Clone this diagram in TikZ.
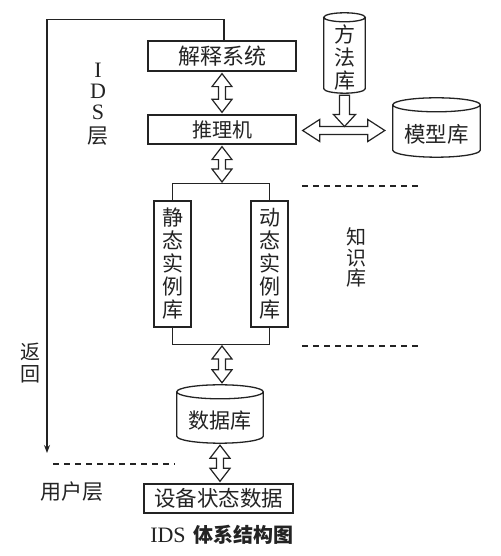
\documentclass[tikz,border=0pt]{standalone}
\usepackage{fontspec}
\setmainfont{Liberation Serif}
\newfontfamily\cjk{Noto Sans CJK SC}
\usetikzlibrary{calc,arrows.meta}
\definecolor{ink}{RGB}{35,35,35}
% hollow vertical double arrow between two anchors (x taken from the first)
\newcommand{\vdarrow}[2]{%
  \draw[hollow] let \p1=#1, \p2=#2 in
    (\x1,\y1-2) -- ++(10,-13) -- ++(-6.5,0) -- (\x1+3.5,\y2+15) -- ++(6.5,0)
    -- (\x1,\y2+2) -- ++(-10,13) -- ++(6.5,0) -- (\x1-3.5,\y1-15) -- ++(-6.5,0) -- cycle;}
% hollow horizontal double arrow (y taken from the first)
\newcommand{\hdarrow}[2]{%
  \draw[hollow] let \p1=#1, \p2=#2 in
    (\x1+6,\y1-1) -- ++(17,11) -- ++(0,-7) -- (\x2-25,\y1+3) -- ++(0,7)
    -- (\x2-8,\y1-1) -- ++(-17,-11) -- ++(0,7) -- (\x1+23,\y1-5) -- ++(0,-7) -- cycle;}
% hollow single arrow pointing down
\newcommand{\vsarrow}[2]{%
  \draw[hollow] let \p1=#1, \p2=#2 in
    (\x1-5,\y1-2) -- (\x1+5,\y1-2) -- (\x1+5,\y2+12) -- ++(6,0) -- (\x1,\y2)
    -- (\x1-11,\y2+12) -- ++(6,0) -- cycle;}
% cylinder outline around a node (node = body below the top face)
\newcommand{\cylout}[2]{%
  \draw[boxline] let \p1=(#1.north west), \p2=(#1.south east), \n1={#2} in
    (\x1,\y1+\n1) -- (\x1,\y2+\n1)
    arc[start angle=180,end angle=360,x radius={(\x2-\x1)/2},y radius={\n1*1pt}]
    -- (\x2,\y1+\n1)
    ({(\x1+\x2)/2},\y1+\n1) ellipse[x radius={(\x2-\x1)/2},y radius={\n1*1pt}];}
\begin{document}
\begin{tikzpicture}[x=1pt,y=1pt,
  boxline/.style={draw=ink,line width=1.3pt},
  box/.style={boxline,inner sep=0pt,text=ink},
  cylnode/.style={inner sep=0pt,text=ink},
  hollow/.style={draw=ink,line width=1.2pt,fill=white,line join=miter},
  dashline/.style={draw=ink,line width=1.2pt,dash pattern=on 6pt off 5pt},
  lbl/.style={text=ink,inner sep=0pt,align=center},
  idsl/.style={text=ink,inner sep=0pt,font=\fontsize{22}{22}\selectfont},
  ret/.style={draw=ink,line width=1.3pt,-{Stealth[length=8pt,width=6pt]}}]
\useasboundingbox (0,0) rectangle (500,556);
\fill[white] (0,0) rectangle (500,556);

% main boxes
\node[box,minimum width=148,minimum height=30,font=\cjk\fontsize{22}{22}\selectfont] (jsxt) at (222,500) {解释系统};
\node[box,minimum width=148,minimum height=29,font=\cjk\fontsize{20}{20}\selectfont] (tlj) at (222,426.5) {推理机};
\node[box,minimum width=37,minimum height=126,align=center,font=\cjk\fontsize{21}{23}\selectfont] (static) at (172.5,292) {静\\态\\实\\例\\库};
\node[box,minimum width=37,minimum height=126,align=center,font=\cjk\fontsize{21}{23}\selectfont] (dyn) at (269.5,292) {动\\态\\实\\例\\库};
\node[box,minimum width=149,minimum height=29,font=\cjk\fontsize{21.5}{22}\selectfont] (dev) at (218.5,57.5) {设备状态数据};

% cylinders
\node[cylnode,minimum width=86,minimum height=44,font=\cjk\fontsize{21}{21}\selectfont] (db) at (220,135) {数据库};
\cylout{db}{7}
\node[cylnode,minimum width=41,minimum height=71,align=center,font=\cjk\fontsize{21}{23}\selectfont] (ffk) at (344.5,498.5) {方\\法\\库};
\cylout{ffk}{4.5}
\node[cylnode,minimum width=87,minimum height=45,font=\cjk\fontsize{21.5}{22}\selectfont] (mxk) at (436.5,421.5) {模型库};
\cylout{mxk}{7}

% bracket around the instance libraries
\coordinate (brtop) at (222,372);
\coordinate (brbot) at (222,212);
\draw[boxline] (static.north) -- ++(0,17) -| (dyn.north);
\draw[boxline] (static.south) -- ++(0,-17) -| (dyn.south);

% hollow arrows
\vdarrow{(jsxt.south)}{(tlj.north)}
\vdarrow{(tlj.south)}{(brtop)}
\coordinate (dbtop) at ($(db.north)+(0,14)$);
\vdarrow{(brbot)}{(dbtop)}
\vdarrow{(db.south)}{(dev.north)}
\hdarrow{(tlj.east)}{(mxk.west)}
\coordinate (hjoin) at ($(ffk.south |- tlj.east)+(0,3)$);
\vsarrow{(ffk.south)}{(hjoin)}

% return line
\coordinate (retend) at (47,103);
\draw[ret] ([xshift=2pt]jsxt.north) -- ++(0,21) -| (retend);

% dashed separators
\coordinate (d1a) at (302,370); \coordinate (d1b) at (420,370);
\coordinate (d2a) at (302,210); \coordinate (d2b) at (418,210);
\coordinate (d3a) at (53,92);   \coordinate (d3b) at (175,92);
\draw[dashline] (d1a) -- (d1b);
\draw[dashline] (d2a) -- (d2b);
\draw[dashline] (d3a) -- (d3b);

% labels
\node[idsl] (idsI) at (98,486) {I};
\node[idsl] (idsD) at (98,464.5) {D};
\node[idsl] (idsS) at (98,443.5) {S};
\node[lbl,font=\cjk\fontsize{21}{21}\selectfont] (idsC) at (98,420) {层};
\node[lbl,font=\cjk\fontsize{20}{20.5}\selectfont] (zsk) at (356,298.5) {知\\识\\库};
\node[lbl,font=\cjk\fontsize{20}{22}\selectfont] (fh) at (30,193) {返\\回};
\node[lbl,font=\cjk\fontsize{21}{21}\selectfont] (yhc) at (72,64) {用户层};
\node[lbl,font=\fontsize{22}{22}\selectfont] (cap) at (222,21) {IDS\hspace{8pt}{\cjk\bfseries\fontsize{20}{20}\selectfont 体系结构图}};
\end{tikzpicture}
\end{document}
